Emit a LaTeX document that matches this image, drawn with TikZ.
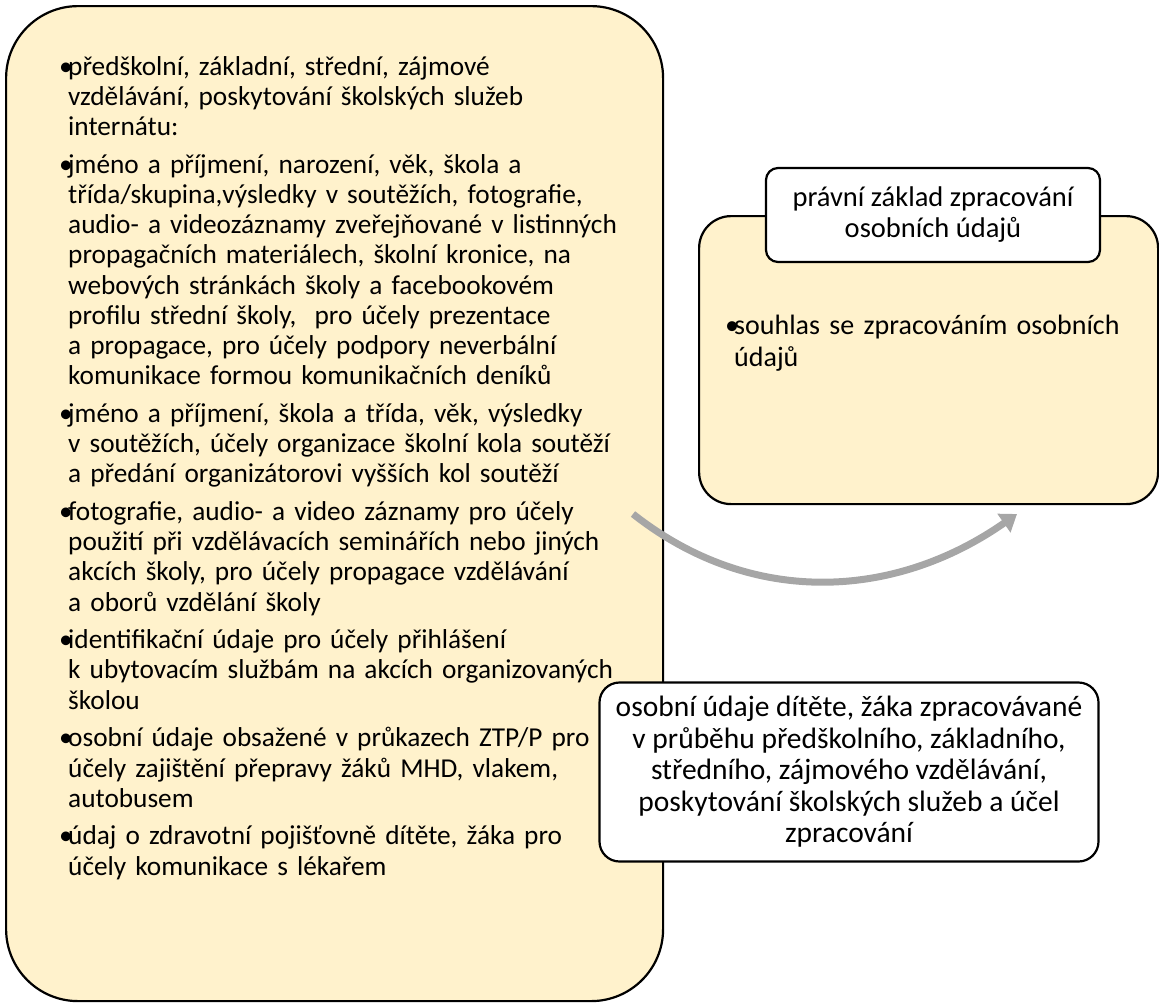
\documentclass[tikz,border=0pt]{standalone}
\usepackage{fontspec}
\setmainfont{Carlito}
\usetikzlibrary{arrows.meta,positioning}

\definecolor{boxfill}{HTML}{FFF2CC}
\definecolor{arrowgray}{HTML}{A6A6A6}

% one bullet item, lines broken by hand with \newline
\newcommand{\bitem}[1]{\hangindent=9pt\hangafter=1\noindent\makebox[9pt][l]{•}#1\par}

\begin{document}
\begin{tikzpicture}[x=1pt,y=-1pt,
    yellowbox/.style={draw=black,line width=2.2pt,fill=boxfill,inner sep=0pt},
    whitebox/.style={draw=black,line width=2.2pt,fill=white,rounded corners=12pt,align=center,inner sep=0pt},
    bodytext/.style={inner sep=0pt,text width=#1,align=left},
    bendarrow/.style={draw=arrowgray,line width=7pt,-{Triangle[width=22pt,length=16pt]}}]
  \useasboundingbox (0,0) rectangle (1159,1005);
  % left box with the list of data
  \node[yellowbox,rounded corners=72pt,minimum width=657pt,minimum height=995pt,anchor=north west] (leftbox) at (5,5) {};
  \node[bodytext=640pt,anchor=north west,font=\fontsize{27.3pt}{30.2pt}\selectfont] (lefttext) at (59,56) {%
    \bitem{předškolní, základní, střední, zájmové\newline vzdělávání, poskytování školských služeb\newline internátu:}\vspace{7.5pt}
    \bitem{jméno a příjmení, narození, věk, škola a\newline třída/skupina,výsledky v soutěžích, fotografie,\newline audio- a videozáznamy zveřejňované v listinných\newline propagačních materiálech, školní kronice, na\newline webových stránkách školy a facebookovém\newline profilu střední školy,~ pro účely prezentace\newline a propagace, pro účely podpory neverbální\newline komunikace formou komunikačních deníků}\vspace{7.5pt}
    \bitem{jméno a příjmení, škola a třída, věk, výsledky\newline v soutěžích, účely organizace školní kola soutěží\newline a předání organizátorovi vyšších kol soutěží}\vspace{7.5pt}
    \bitem{fotografie, audio- a video záznamy pro účely\newline použití při vzdělávacích seminářích nebo jiných\newline akcích školy, pro účely propagace vzdělávání\newline a oborů vzdělání školy}\vspace{7.5pt}
    \bitem{identifikační údaje pro účely přihlášení\newline k ubytovacím službám na akcích organizovaných\newline školou}\vspace{7.5pt}
    \bitem{osobní údaje obsažené v průkazech ZTP/P pro\newline účely zajištění přepravy žáků MHD, vlakem,\newline autobusem}\vspace{7.5pt}
    \bitem{údaj o zdravotní pojišťovně dítěte, žáka pro\newline účely komunikace s lékařem}};
  % right box with the legal basis
  \node[yellowbox,rounded corners=32pt,minimum width=459pt,minimum height=288pt,anchor=north west] (rightbox) at (698,215) {};
  \node[bodytext=420pt,anchor=north west,font=\fontsize{28pt}{31.5pt}\selectfont] (righttext) at (725,315) {%
    \bitem{souhlas se zpracováním osobních\newline údajů}};
  \node[whitebox,minimum width=334pt,minimum height=94pt,font=\fontsize{28.5pt}{31pt}\selectfont] (title) at (933,215) {právní základ zpracování\\osobních údajů};
  % bottom box
  \node[whitebox,rounded corners=20pt,minimum width=499pt,minimum height=179pt,font=\fontsize{29.5pt}{31.5pt}\selectfont] (purpose) at (849,772) {osobní údaje dítěte, žáka zpracovávané\\v průběhu předškolního, základního,\\středního, zájmového vzdělávání,\\poskytování školských služeb a účel\\zpracování};
  % curved arrow
  \coordinate (arrowstart) at (633,514);
  \coordinate (arrowend) at (1017,514);
  \draw[bendarrow] (arrowstart) .. controls (751,607) and (894,600) .. (arrowend);
\end{tikzpicture}
\end{document}
